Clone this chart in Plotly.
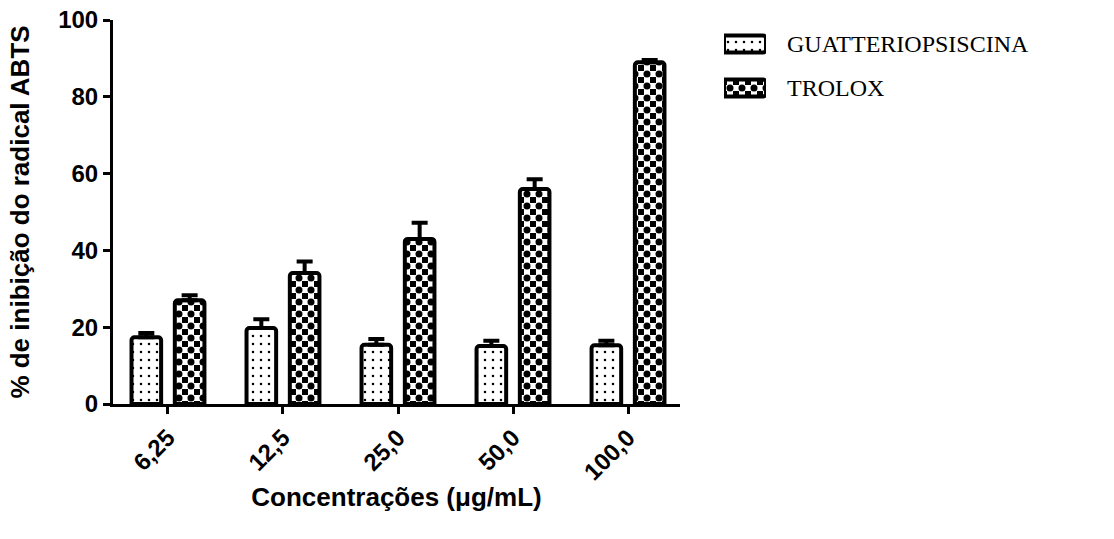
import plotly.graph_objects as go

categories = ["6,25", "12,5", "25,0", "50,0", "100,0"]
guatt_values = [17.4, 19.8, 15.4, 15.1, 15.3]
guatt_errors = [1.1, 2.3, 1.5, 1.4, 1.2]
trolox_values = [27.0, 34.1, 43.0, 56.0, 89.0]
trolox_errors = [1.3, 3.0, 4.2, 2.5, 0.6]
series_names = ["GUATTERIOPSISCINA", "TROLOX"]
legend_swatch_len = [1]

# GUATTERIOPSISCINA: small dots; TROLOX: checkerboard = black squares (white "+" on black)
# plus black dots filling the centre squares (same tile grid)
dots_pattern = dict(shape=".", fgcolor="black", bgcolor="white", size=8, solidity=0.08,
                    fgopacity=1)
checker_base = dict(shape="+", fgcolor="white", bgcolor="black", size=12, solidity=0.75,
                    fgopacity=1)
checker_fill = dict(shape=".", fgcolor="black", bgcolor="rgba(0,0,0,0)", size=12,
                    solidity=0.27, fgopacity=1)

tick_font = dict(family="Liberation Sans, Arial, sans-serif", size=24, color="black", weight="bold")
title_font = dict(family="Liberation Sans, Arial, sans-serif", size=26, color="black", weight="bold")

W, H = 1114, 539
L, R, T, B = 113, 5, 20, 135
pw = W - L - R
ph = H - T - B
main_w = 567
x_range = [-0.478, 4.452]
y_range = [0, 100]

slot = (1 - 0.247) / 2
bar_w = slot * (1 - 0.316)
offsets = [-slot / 2 - bar_w / 2, slot / 2 - bar_w / 2]
outline = dict(color="black", width=4)
clear = "rgba(0,0,0,0)"

fig = go.Figure()
fig.add_trace(go.Bar(
    x=categories, y=guatt_values, name=series_names[0], showlegend=False,
    width=bar_w, offset=offsets[0],
    marker=dict(color="white", line=outline, cornerradius=3, pattern=dots_pattern),
    error_y=dict(type="data", symmetric=False, array=guatt_errors,
                 arrayminus=[0] * len(guatt_errors), color="black", thickness=4, width=8),
))
fig.add_trace(go.Bar(
    x=categories, y=trolox_values, name=series_names[1], showlegend=False,
    width=bar_w, offset=offsets[1], hoverinfo="skip",
    marker=dict(color="black", line=dict(width=0), pattern=checker_base),
))
fig.add_trace(go.Bar(
    x=categories, y=trolox_values, name=series_names[1], showlegend=False,
    width=bar_w, offset=offsets[1],
    marker=dict(color=clear, line=outline, cornerradius=3, pattern=checker_fill),
    error_y=dict(type="data", symmetric=False, array=trolox_errors,
                 arrayminus=[0] * len(trolox_errors), color="black", thickness=4, width=8),
))

# legend drawn as a small horizontal-bar subplot (large patterned swatches)
leg_x0, leg_x1 = 724, 766
leg_y0, leg_y1 = 22, 110
sw = 0.386
fig.add_trace(go.Bar(
    x=legend_swatch_len, y=series_names[:1], orientation="h", xaxis="x2", yaxis="y2",
    showlegend=False, width=sw, hoverinfo="skip",
    marker=dict(color="white", line=outline, cornerradius=3, pattern=dots_pattern),
))
fig.add_trace(go.Bar(
    x=legend_swatch_len, y=series_names[1:], orientation="h", xaxis="x2", yaxis="y2",
    showlegend=False, width=sw, hoverinfo="skip",
    marker=dict(color="black", line=dict(width=0), pattern=checker_base),
))
fig.add_trace(go.Bar(
    x=legend_swatch_len, y=series_names[1:], orientation="h", xaxis="x2", yaxis="y2",
    showlegend=False, width=sw, hoverinfo="skip",
    marker=dict(color=clear, line=outline, cornerradius=3, pattern=checker_fill),
))

fig.update_layout(
    width=W, height=H,
    margin=dict(l=L, r=R, t=T, b=B),
    plot_bgcolor=clear, paper_bgcolor="white",
    barmode="overlay",
    xaxis=dict(domain=[0, main_w / pw], range=x_range, automargin=False,
               showline=True, linecolor="black", linewidth=3,
               ticks="outside", ticklen=7, tickwidth=3, tickcolor="black",
               tickangle=-45, tickfont=tick_font, showgrid=False, zeroline=False,
               ticklabeloverflow="allow",
               title=dict(text="Concentrações (μg/mL)", font=title_font, standoff=4)),
    yaxis=dict(range=y_range, tickvals=[0, 20, 40, 60, 80, 100], automargin=False,
               showline=True, linecolor="black", linewidth=3, ticks="outside", ticklen=7,
               tickwidth=3, tickcolor="black", tickfont=tick_font, showgrid=False,
               zeroline=False, ticklabeloverflow="allow",
               title=dict(text="% de inibição do radical ABTS", font=title_font, standoff=22)),
    xaxis2=dict(domain=[(leg_x0 - L) / pw, (leg_x1 - L) / pw], range=[0, 1], anchor="y2",
                visible=False, fixedrange=True),
    yaxis2=dict(domain=[(ph + T - leg_y1) / ph, (ph + T - leg_y0) / ph], range=[1.5, -0.5],
                anchor="x2", side="right", showline=False, showgrid=False, zeroline=False,
                ticks="", ticklabelstandoff=20, automargin=False, fixedrange=True,
                ticklabeloverflow="allow", type="category",
                categoryorder="array", categoryarray=series_names,
                tickfont=dict(family="Liberation Serif, Times New Roman, serif", size=24,
                              color="black")),
)

fig.write_html("out.html", config={"displayModeBar": False},
               post_script="document.body.style.margin='0px';")
